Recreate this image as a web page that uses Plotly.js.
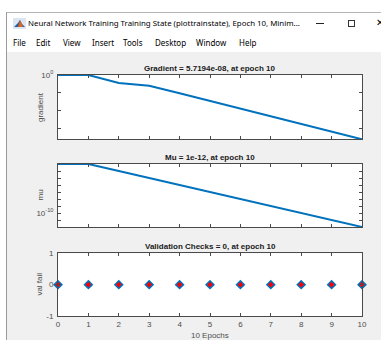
<!DOCTYPE html>
<html><head><meta charset="utf-8">
<script src="https://cdn.plot.ly/plotly-3.0.1.min.js"></script>
<style>
html,body{margin:0;padding:0;width:381px;height:340px;overflow:hidden;background:#fff;}
#frame{position:absolute;left:6px;top:12px;width:375px;height:328px;border-left:1px solid #9a9a9a;border-top:1px solid #b5b5b5;background:#fff}
#content{position:absolute;left:7px;top:52px;width:374px;height:288px;background:#f0f0f0}
.t{position:absolute;font-family:"Noto Sans","Open Sans",sans-serif;font-size:8px;line-height:10px;color:#000;white-space:nowrap}
#chart{position:absolute;left:0;top:0;width:381px;height:340px}
</style>
</head><body>
<div id="frame"></div>
<div id="content"></div>
<svg style="position:absolute;left:13px;top:18px" width="13" height="11" viewBox="0 0 13 11">
  <rect x="0" y="0" width="13" height="11" fill="#dbe6f2"/>
  <polygon points="1,9 5,5 7,2 9,6 12,9" fill="#1f5fa8"/>
  <polygon points="5,9 7,2 9,6 10,9" fill="#e0641e"/>
</svg>
<div class="t" id="wtitle" style="left:28px;top:18px">Neural Network Training Training State (plottrainstate), Epoch 10, Minim...</div>
<div style="position:absolute;left:316px;top:23px;width:8px;height:1px;background:#222"></div>
<div style="position:absolute;left:348px;top:20px;width:5px;height:5px;border:1px solid #333"></div>
<div class="t" style="left:376px;top:17px;font-size:10px">✕</div>
<div class="t mi" style="left:13px;top:38px">File</div>
<div class="t mi" style="left:36px;top:38px">Edit</div>
<div class="t mi" style="left:63px;top:38px">View</div>
<div class="t mi" style="left:92px;top:38px">Insert</div>
<div class="t mi" style="left:123px;top:38px">Tools</div>
<div class="t mi" style="left:155px;top:38px">Desktop</div>
<div class="t mi" style="left:196px;top:38px">Window</div>
<div class="t mi" style="left:239px;top:38px">Help</div>
<div id="chart"></div>
<script>
(function(){
  var wt=document.getElementById('wtitle');
  var w=wt.getBoundingClientRect().width; wt.style.fontSize=(8*272/w)+'px';
})();

var epochs = [0,1,2,3,4,5,6,7,8,9,10];
var gradient = [1, 1, 0.125, 0.063, 8.7e-3, 1.17e-3, 1.62e-4, 2.2e-5, 3.0e-6, 4.2e-7, 5.7194e-8];
var mu = [1e-3, 1e-3, 1e-4, 1e-5, 1e-6, 1e-7, 1e-8, 1e-9, 1e-10, 1e-11, 1e-12];
var valFail = [0,0,0,0,0,0,0,0,0,0,0];
var titles = ['Gradient = 5.7194e-08, at epoch 10','Mu = 1e-12, at epoch 10','Validation Checks = 0, at epoch 10'];
var ylabels = ['gradient','mu','val fail'];
var xlabel = '10 Epochs';
var gradTicks = [1, 1e-2, 1e-4, 1e-6];
var gradTickText = ['10<sup>0</sup>',' ',' ',' '];
var muTicks = [1e-3,1e-4,1e-5,1e-6,1e-7,1e-8,1e-9,1e-10,1e-11,1e-12];
var muTickText = [' ',' ',' ',' ',' ',' ',' ','10<sup>-10</sup>',' ',' '];
var valTicks = [-1,0,1];
var valTickText = ['-1','0','1'];
var xTicks = epochs;

var W=381,H=340;
var blue='#0072BD', axc='#4a4a4a', txc='#4d4d4d';
var FONT='"Liberation Sans", Arial, sans-serif';
function px(x){return x/W;} function py(y){return 1-y/H;}
var xdom=[px(58),px(362)];
var ydoms=[[py(139.3),py(75)],[py(227),py(164)],[py(316),py(253.3)]];

function xax(i,labels){
  return {domain:xdom, range:[0,10], anchor:'y'+(i===1?'':i), showline:true, mirror:'ticks',
    linecolor:axc, linewidth:1, ticks:'inside', ticklen:3, tickcolor:axc, tickwidth:1,
    tickvals:xTicks, showticklabels:labels, showgrid:false, zeroline:false,
    tickfont:{family:FONT,size:8,color:txc}, ticklabelstandoff:0, fixedrange:true};
}
function yax(i,opts){
  var o={domain:ydoms[i-1], anchor:'x'+(i===1?'':i), showline:true, mirror:'ticks',
    linecolor:axc, linewidth:1, ticks:'inside', ticklen:3, tickcolor:axc, tickwidth:1,
    showgrid:false, zeroline:false, tickfont:{family:FONT,size:8,color:txc}, ticklabelstandoff:2};
  for(var k in opts)o[k]=opts[k];
  return o;
}

var data=[
  {x:epochs,y:gradient,xaxis:'x',yaxis:'y',mode:'lines',line:{color:blue,width:2},cliponaxis:false},
  {x:epochs,y:mu,xaxis:'x2',yaxis:'y2',mode:'lines',line:{color:blue,width:2},cliponaxis:false},
  {x:epochs,y:valFail,xaxis:'x3',yaxis:'y3',mode:'markers',cliponaxis:false,
   marker:{symbol:'diamond',size:6,color:'#ff0000',line:{color:blue,width:1.5}}}
];

var ann=[];
var ty=[69,157.7,246.7];
var ly=[107,195.5,284.6];
for(var i=0;i<3;i++){
  ann.push({xref:'paper',yref:'paper',x:px(210),y:py(ty[i]),xanchor:'center',yanchor:'middle',showarrow:false,
    text:'<b>'+titles[i]+'</b>',font:{family:FONT,size:8,color:'#1a1a1a'}});
  ann.push({xref:'paper',yref:'paper',x:px(40),y:py(ly[i]),xanchor:'center',yanchor:'middle',showarrow:false,
    textangle:-90,text:ylabels[i],font:{family:FONT,size:8,color:txc}});
}
ann.push({xref:'paper',yref:'paper',x:px(210),y:py(335),xanchor:'center',yanchor:'middle',showarrow:false,
  text:xlabel,font:{family:FONT,size:8,color:txc}});

var layout={width:W,height:H,margin:{l:0,r:0,t:0,b:0},paper_bgcolor:'rgba(0,0,0,0)',plot_bgcolor:'#ffffff',
  showlegend:false,
  xaxis:xax(1,false), xaxis2:xax(2,false), xaxis3:xax(3,true),
  yaxis:yax(1,{type:'log',range:[Math.log10(5.7194e-8),0],tickvals:gradTicks,ticktext:gradTickText}),
  yaxis2:yax(2,{type:'log',range:[-12,-3],tickvals:muTicks,ticktext:muTickText}),
  yaxis3:yax(3,{range:[-1,1],tickvals:valTicks,ticktext:valTickText}),
  annotations:ann};
Plotly.newPlot('chart',data,layout,{staticPlot:true,displayModeBar:false});
</script>
</body></html>
